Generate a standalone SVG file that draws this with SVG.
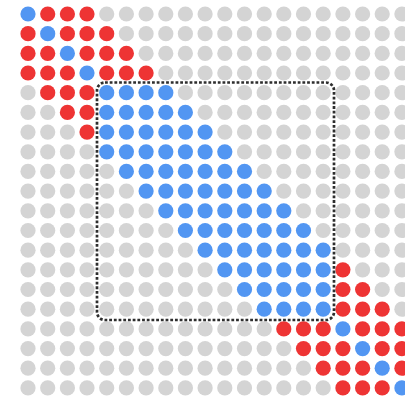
<svg xmlns="http://www.w3.org/2000/svg" width="405" height="398" viewBox="0 0 405 398">
<style>
circle{stroke:none}
.g{fill:#d4d4d4}
.b{fill:#5296f2}
.r{fill:#ee3434}
.box{fill:none;stroke:#2e2e2e;stroke-width:2.7;stroke-dasharray:2.8 1.9}
</style>
<rect width="405" height="398" fill="#fff"/>
<g id="dots">
<g transform="translate(0,14)"><circle cx="28" r="7.6" class="b"/><circle cx="47.7" r="7.6" class="r"/><circle cx="67.4" r="7.6" class="r"/><circle cx="87" r="7.6" class="r"/><circle cx="106.7" r="7.6" class="g"/><circle cx="126.4" r="7.6" class="g"/><circle cx="146.1" r="7.6" class="g"/><circle cx="165.8" r="7.6" class="g"/><circle cx="185.4" r="7.6" class="g"/><circle cx="205.1" r="7.6" class="g"/><circle cx="224.8" r="7.6" class="g"/><circle cx="244.5" r="7.6" class="g"/><circle cx="264.2" r="7.6" class="g"/><circle cx="283.8" r="7.6" class="g"/><circle cx="303.5" r="7.6" class="g"/><circle cx="323.2" r="7.6" class="g"/><circle cx="342.9" r="7.6" class="g"/><circle cx="362.6" r="7.6" class="g"/><circle cx="382.2" r="7.6" class="g"/><circle cx="401.9" r="7.6" class="g"/></g>
<g transform="translate(0,33.7)"><circle cx="28" r="7.6" class="r"/><circle cx="47.7" r="7.6" class="b"/><circle cx="67.4" r="7.6" class="r"/><circle cx="87" r="7.6" class="r"/><circle cx="106.7" r="7.6" class="r"/><circle cx="126.4" r="7.6" class="g"/><circle cx="146.1" r="7.6" class="g"/><circle cx="165.8" r="7.6" class="g"/><circle cx="185.4" r="7.6" class="g"/><circle cx="205.1" r="7.6" class="g"/><circle cx="224.8" r="7.6" class="g"/><circle cx="244.5" r="7.6" class="g"/><circle cx="264.2" r="7.6" class="g"/><circle cx="283.8" r="7.6" class="g"/><circle cx="303.5" r="7.6" class="g"/><circle cx="323.2" r="7.6" class="g"/><circle cx="342.9" r="7.6" class="g"/><circle cx="362.6" r="7.6" class="g"/><circle cx="382.2" r="7.6" class="g"/><circle cx="401.9" r="7.6" class="g"/></g>
<g transform="translate(0,53.4)"><circle cx="28" r="7.6" class="r"/><circle cx="47.7" r="7.6" class="r"/><circle cx="67.4" r="7.6" class="b"/><circle cx="87" r="7.6" class="r"/><circle cx="106.7" r="7.6" class="r"/><circle cx="126.4" r="7.6" class="r"/><circle cx="146.1" r="7.6" class="g"/><circle cx="165.8" r="7.6" class="g"/><circle cx="185.4" r="7.6" class="g"/><circle cx="205.1" r="7.6" class="g"/><circle cx="224.8" r="7.6" class="g"/><circle cx="244.5" r="7.6" class="g"/><circle cx="264.2" r="7.6" class="g"/><circle cx="283.8" r="7.6" class="g"/><circle cx="303.5" r="7.6" class="g"/><circle cx="323.2" r="7.6" class="g"/><circle cx="342.9" r="7.6" class="g"/><circle cx="362.6" r="7.6" class="g"/><circle cx="382.2" r="7.6" class="g"/><circle cx="401.9" r="7.6" class="g"/></g>
<g transform="translate(0,73)"><circle cx="28" r="7.6" class="r"/><circle cx="47.7" r="7.6" class="r"/><circle cx="67.4" r="7.6" class="r"/><circle cx="87" r="7.6" class="b"/><circle cx="106.7" r="7.6" class="r"/><circle cx="126.4" r="7.6" class="r"/><circle cx="146.1" r="7.6" class="r"/><circle cx="165.8" r="7.6" class="g"/><circle cx="185.4" r="7.6" class="g"/><circle cx="205.1" r="7.6" class="g"/><circle cx="224.8" r="7.6" class="g"/><circle cx="244.5" r="7.6" class="g"/><circle cx="264.2" r="7.6" class="g"/><circle cx="283.8" r="7.6" class="g"/><circle cx="303.5" r="7.6" class="g"/><circle cx="323.2" r="7.6" class="g"/><circle cx="342.9" r="7.6" class="g"/><circle cx="362.6" r="7.6" class="g"/><circle cx="382.2" r="7.6" class="g"/><circle cx="401.9" r="7.6" class="g"/></g>
<g transform="translate(0,92.7)"><circle cx="28" r="7.6" class="g"/><circle cx="47.7" r="7.6" class="r"/><circle cx="67.4" r="7.6" class="r"/><circle cx="87" r="7.6" class="r"/><circle cx="106.7" r="7.6" class="b"/><circle cx="126.4" r="7.6" class="b"/><circle cx="146.1" r="7.6" class="b"/><circle cx="165.8" r="7.6" class="b"/><circle cx="185.4" r="7.6" class="g"/><circle cx="205.1" r="7.6" class="g"/><circle cx="224.8" r="7.6" class="g"/><circle cx="244.5" r="7.6" class="g"/><circle cx="264.2" r="7.6" class="g"/><circle cx="283.8" r="7.6" class="g"/><circle cx="303.5" r="7.6" class="g"/><circle cx="323.2" r="7.6" class="g"/><circle cx="342.9" r="7.6" class="g"/><circle cx="362.6" r="7.6" class="g"/><circle cx="382.2" r="7.6" class="g"/><circle cx="401.9" r="7.6" class="g"/></g>
<g transform="translate(0,112.4)"><circle cx="28" r="7.6" class="g"/><circle cx="47.7" r="7.6" class="g"/><circle cx="67.4" r="7.6" class="r"/><circle cx="87" r="7.6" class="r"/><circle cx="106.7" r="7.6" class="b"/><circle cx="126.4" r="7.6" class="b"/><circle cx="146.1" r="7.6" class="b"/><circle cx="165.8" r="7.6" class="b"/><circle cx="185.4" r="7.6" class="b"/><circle cx="205.1" r="7.6" class="g"/><circle cx="224.8" r="7.6" class="g"/><circle cx="244.5" r="7.6" class="g"/><circle cx="264.2" r="7.6" class="g"/><circle cx="283.8" r="7.6" class="g"/><circle cx="303.5" r="7.6" class="g"/><circle cx="323.2" r="7.6" class="g"/><circle cx="342.9" r="7.6" class="g"/><circle cx="362.6" r="7.6" class="g"/><circle cx="382.2" r="7.6" class="g"/><circle cx="401.9" r="7.6" class="g"/></g>
<g transform="translate(0,132.1)"><circle cx="28" r="7.6" class="g"/><circle cx="47.7" r="7.6" class="g"/><circle cx="67.4" r="7.6" class="g"/><circle cx="87" r="7.6" class="r"/><circle cx="106.7" r="7.6" class="b"/><circle cx="126.4" r="7.6" class="b"/><circle cx="146.1" r="7.6" class="b"/><circle cx="165.8" r="7.6" class="b"/><circle cx="185.4" r="7.6" class="b"/><circle cx="205.1" r="7.6" class="b"/><circle cx="224.8" r="7.6" class="g"/><circle cx="244.5" r="7.6" class="g"/><circle cx="264.2" r="7.6" class="g"/><circle cx="283.8" r="7.6" class="g"/><circle cx="303.5" r="7.6" class="g"/><circle cx="323.2" r="7.6" class="g"/><circle cx="342.9" r="7.6" class="g"/><circle cx="362.6" r="7.6" class="g"/><circle cx="382.2" r="7.6" class="g"/><circle cx="401.9" r="7.6" class="g"/></g>
<g transform="translate(0,151.8)"><circle cx="28" r="7.6" class="g"/><circle cx="47.7" r="7.6" class="g"/><circle cx="67.4" r="7.6" class="g"/><circle cx="87" r="7.6" class="g"/><circle cx="106.7" r="7.6" class="b"/><circle cx="126.4" r="7.6" class="b"/><circle cx="146.1" r="7.6" class="b"/><circle cx="165.8" r="7.6" class="b"/><circle cx="185.4" r="7.6" class="b"/><circle cx="205.1" r="7.6" class="b"/><circle cx="224.8" r="7.6" class="b"/><circle cx="244.5" r="7.6" class="g"/><circle cx="264.2" r="7.6" class="g"/><circle cx="283.8" r="7.6" class="g"/><circle cx="303.5" r="7.6" class="g"/><circle cx="323.2" r="7.6" class="g"/><circle cx="342.9" r="7.6" class="g"/><circle cx="362.6" r="7.6" class="g"/><circle cx="382.2" r="7.6" class="g"/><circle cx="401.9" r="7.6" class="g"/></g>
<g transform="translate(0,171.4)"><circle cx="28" r="7.6" class="g"/><circle cx="47.7" r="7.6" class="g"/><circle cx="67.4" r="7.6" class="g"/><circle cx="87" r="7.6" class="g"/><circle cx="106.7" r="7.6" class="g"/><circle cx="126.4" r="7.6" class="b"/><circle cx="146.1" r="7.6" class="b"/><circle cx="165.8" r="7.6" class="b"/><circle cx="185.4" r="7.6" class="b"/><circle cx="205.1" r="7.6" class="b"/><circle cx="224.8" r="7.6" class="b"/><circle cx="244.5" r="7.6" class="b"/><circle cx="264.2" r="7.6" class="g"/><circle cx="283.8" r="7.6" class="g"/><circle cx="303.5" r="7.6" class="g"/><circle cx="323.2" r="7.6" class="g"/><circle cx="342.9" r="7.6" class="g"/><circle cx="362.6" r="7.6" class="g"/><circle cx="382.2" r="7.6" class="g"/><circle cx="401.9" r="7.6" class="g"/></g>
<g transform="translate(0,191.1)"><circle cx="28" r="7.6" class="g"/><circle cx="47.7" r="7.6" class="g"/><circle cx="67.4" r="7.6" class="g"/><circle cx="87" r="7.6" class="g"/><circle cx="106.7" r="7.6" class="g"/><circle cx="126.4" r="7.6" class="g"/><circle cx="146.1" r="7.6" class="b"/><circle cx="165.8" r="7.6" class="b"/><circle cx="185.4" r="7.6" class="b"/><circle cx="205.1" r="7.6" class="b"/><circle cx="224.8" r="7.6" class="b"/><circle cx="244.5" r="7.6" class="b"/><circle cx="264.2" r="7.6" class="b"/><circle cx="283.8" r="7.6" class="g"/><circle cx="303.5" r="7.6" class="g"/><circle cx="323.2" r="7.6" class="g"/><circle cx="342.9" r="7.6" class="g"/><circle cx="362.6" r="7.6" class="g"/><circle cx="382.2" r="7.6" class="g"/><circle cx="401.9" r="7.6" class="g"/></g>
<g transform="translate(0,210.8)"><circle cx="28" r="7.6" class="g"/><circle cx="47.7" r="7.6" class="g"/><circle cx="67.4" r="7.6" class="g"/><circle cx="87" r="7.6" class="g"/><circle cx="106.7" r="7.6" class="g"/><circle cx="126.4" r="7.6" class="g"/><circle cx="146.1" r="7.6" class="g"/><circle cx="165.8" r="7.6" class="b"/><circle cx="185.4" r="7.6" class="b"/><circle cx="205.1" r="7.6" class="b"/><circle cx="224.8" r="7.6" class="b"/><circle cx="244.5" r="7.6" class="b"/><circle cx="264.2" r="7.6" class="b"/><circle cx="283.8" r="7.6" class="b"/><circle cx="303.5" r="7.6" class="g"/><circle cx="323.2" r="7.6" class="g"/><circle cx="342.9" r="7.6" class="g"/><circle cx="362.6" r="7.6" class="g"/><circle cx="382.2" r="7.6" class="g"/><circle cx="401.9" r="7.6" class="g"/></g>
<g transform="translate(0,230.5)"><circle cx="28" r="7.6" class="g"/><circle cx="47.7" r="7.6" class="g"/><circle cx="67.4" r="7.6" class="g"/><circle cx="87" r="7.6" class="g"/><circle cx="106.7" r="7.6" class="g"/><circle cx="126.4" r="7.6" class="g"/><circle cx="146.1" r="7.6" class="g"/><circle cx="165.8" r="7.6" class="g"/><circle cx="185.4" r="7.6" class="b"/><circle cx="205.1" r="7.6" class="b"/><circle cx="224.8" r="7.6" class="b"/><circle cx="244.5" r="7.6" class="b"/><circle cx="264.2" r="7.6" class="b"/><circle cx="283.8" r="7.6" class="b"/><circle cx="303.5" r="7.6" class="b"/><circle cx="323.2" r="7.6" class="g"/><circle cx="342.9" r="7.6" class="g"/><circle cx="362.6" r="7.6" class="g"/><circle cx="382.2" r="7.6" class="g"/><circle cx="401.9" r="7.6" class="g"/></g>
<g transform="translate(0,250.2)"><circle cx="28" r="7.6" class="g"/><circle cx="47.7" r="7.6" class="g"/><circle cx="67.4" r="7.6" class="g"/><circle cx="87" r="7.6" class="g"/><circle cx="106.7" r="7.6" class="g"/><circle cx="126.4" r="7.6" class="g"/><circle cx="146.1" r="7.6" class="g"/><circle cx="165.8" r="7.6" class="g"/><circle cx="185.4" r="7.6" class="g"/><circle cx="205.1" r="7.6" class="b"/><circle cx="224.8" r="7.6" class="b"/><circle cx="244.5" r="7.6" class="b"/><circle cx="264.2" r="7.6" class="b"/><circle cx="283.8" r="7.6" class="b"/><circle cx="303.5" r="7.6" class="b"/><circle cx="323.2" r="7.6" class="b"/><circle cx="342.9" r="7.6" class="g"/><circle cx="362.6" r="7.6" class="g"/><circle cx="382.2" r="7.6" class="g"/><circle cx="401.9" r="7.6" class="g"/></g>
<g transform="translate(0,269.8)"><circle cx="28" r="7.6" class="g"/><circle cx="47.7" r="7.6" class="g"/><circle cx="67.4" r="7.6" class="g"/><circle cx="87" r="7.6" class="g"/><circle cx="106.7" r="7.6" class="g"/><circle cx="126.4" r="7.6" class="g"/><circle cx="146.1" r="7.6" class="g"/><circle cx="165.8" r="7.6" class="g"/><circle cx="185.4" r="7.6" class="g"/><circle cx="205.1" r="7.6" class="g"/><circle cx="224.8" r="7.6" class="b"/><circle cx="244.5" r="7.6" class="b"/><circle cx="264.2" r="7.6" class="b"/><circle cx="283.8" r="7.6" class="b"/><circle cx="303.5" r="7.6" class="b"/><circle cx="323.2" r="7.6" class="b"/><circle cx="342.9" r="7.6" class="r"/><circle cx="362.6" r="7.6" class="g"/><circle cx="382.2" r="7.6" class="g"/><circle cx="401.9" r="7.6" class="g"/></g>
<g transform="translate(0,289.5)"><circle cx="28" r="7.6" class="g"/><circle cx="47.7" r="7.6" class="g"/><circle cx="67.4" r="7.6" class="g"/><circle cx="87" r="7.6" class="g"/><circle cx="106.7" r="7.6" class="g"/><circle cx="126.4" r="7.6" class="g"/><circle cx="146.1" r="7.6" class="g"/><circle cx="165.8" r="7.6" class="g"/><circle cx="185.4" r="7.6" class="g"/><circle cx="205.1" r="7.6" class="g"/><circle cx="224.8" r="7.6" class="g"/><circle cx="244.5" r="7.6" class="b"/><circle cx="264.2" r="7.6" class="b"/><circle cx="283.8" r="7.6" class="b"/><circle cx="303.5" r="7.6" class="b"/><circle cx="323.2" r="7.6" class="b"/><circle cx="342.9" r="7.6" class="r"/><circle cx="362.6" r="7.6" class="r"/><circle cx="382.2" r="7.6" class="g"/><circle cx="401.9" r="7.6" class="g"/></g>
<g transform="translate(0,309.2)"><circle cx="28" r="7.6" class="g"/><circle cx="47.7" r="7.6" class="g"/><circle cx="67.4" r="7.6" class="g"/><circle cx="87" r="7.6" class="g"/><circle cx="106.7" r="7.6" class="g"/><circle cx="126.4" r="7.6" class="g"/><circle cx="146.1" r="7.6" class="g"/><circle cx="165.8" r="7.6" class="g"/><circle cx="185.4" r="7.6" class="g"/><circle cx="205.1" r="7.6" class="g"/><circle cx="224.8" r="7.6" class="g"/><circle cx="244.5" r="7.6" class="g"/><circle cx="264.2" r="7.6" class="b"/><circle cx="283.8" r="7.6" class="b"/><circle cx="303.5" r="7.6" class="b"/><circle cx="323.2" r="7.6" class="b"/><circle cx="342.9" r="7.6" class="r"/><circle cx="362.6" r="7.6" class="r"/><circle cx="382.2" r="7.6" class="r"/><circle cx="401.9" r="7.6" class="g"/></g>
<g transform="translate(0,328.9)"><circle cx="28" r="7.6" class="g"/><circle cx="47.7" r="7.6" class="g"/><circle cx="67.4" r="7.6" class="g"/><circle cx="87" r="7.6" class="g"/><circle cx="106.7" r="7.6" class="g"/><circle cx="126.4" r="7.6" class="g"/><circle cx="146.1" r="7.6" class="g"/><circle cx="165.8" r="7.6" class="g"/><circle cx="185.4" r="7.6" class="g"/><circle cx="205.1" r="7.6" class="g"/><circle cx="224.8" r="7.6" class="g"/><circle cx="244.5" r="7.6" class="g"/><circle cx="264.2" r="7.6" class="g"/><circle cx="283.8" r="7.6" class="r"/><circle cx="303.5" r="7.6" class="r"/><circle cx="323.2" r="7.6" class="r"/><circle cx="342.9" r="7.6" class="b"/><circle cx="362.6" r="7.6" class="r"/><circle cx="382.2" r="7.6" class="r"/><circle cx="401.9" r="7.6" class="r"/></g>
<g transform="translate(0,348.6)"><circle cx="28" r="7.6" class="g"/><circle cx="47.7" r="7.6" class="g"/><circle cx="67.4" r="7.6" class="g"/><circle cx="87" r="7.6" class="g"/><circle cx="106.7" r="7.6" class="g"/><circle cx="126.4" r="7.6" class="g"/><circle cx="146.1" r="7.6" class="g"/><circle cx="165.8" r="7.6" class="g"/><circle cx="185.4" r="7.6" class="g"/><circle cx="205.1" r="7.6" class="g"/><circle cx="224.8" r="7.6" class="g"/><circle cx="244.5" r="7.6" class="g"/><circle cx="264.2" r="7.6" class="g"/><circle cx="283.8" r="7.6" class="g"/><circle cx="303.5" r="7.6" class="r"/><circle cx="323.2" r="7.6" class="r"/><circle cx="342.9" r="7.6" class="r"/><circle cx="362.6" r="7.6" class="b"/><circle cx="382.2" r="7.6" class="r"/><circle cx="401.9" r="7.6" class="r"/></g>
<g transform="translate(0,368.2)"><circle cx="28" r="7.6" class="g"/><circle cx="47.7" r="7.6" class="g"/><circle cx="67.4" r="7.6" class="g"/><circle cx="87" r="7.6" class="g"/><circle cx="106.7" r="7.6" class="g"/><circle cx="126.4" r="7.6" class="g"/><circle cx="146.1" r="7.6" class="g"/><circle cx="165.8" r="7.6" class="g"/><circle cx="185.4" r="7.6" class="g"/><circle cx="205.1" r="7.6" class="g"/><circle cx="224.8" r="7.6" class="g"/><circle cx="244.5" r="7.6" class="g"/><circle cx="264.2" r="7.6" class="g"/><circle cx="283.8" r="7.6" class="g"/><circle cx="303.5" r="7.6" class="g"/><circle cx="323.2" r="7.6" class="r"/><circle cx="342.9" r="7.6" class="r"/><circle cx="362.6" r="7.6" class="r"/><circle cx="382.2" r="7.6" class="b"/><circle cx="401.9" r="7.6" class="r"/></g>
<g transform="translate(0,387.9)"><circle cx="28" r="7.6" class="g"/><circle cx="47.7" r="7.6" class="g"/><circle cx="67.4" r="7.6" class="g"/><circle cx="87" r="7.6" class="g"/><circle cx="106.7" r="7.6" class="g"/><circle cx="126.4" r="7.6" class="g"/><circle cx="146.1" r="7.6" class="g"/><circle cx="165.8" r="7.6" class="g"/><circle cx="185.4" r="7.6" class="g"/><circle cx="205.1" r="7.6" class="g"/><circle cx="224.8" r="7.6" class="g"/><circle cx="244.5" r="7.6" class="g"/><circle cx="264.2" r="7.6" class="g"/><circle cx="283.8" r="7.6" class="g"/><circle cx="303.5" r="7.6" class="g"/><circle cx="323.2" r="7.6" class="g"/><circle cx="342.9" r="7.6" class="r"/><circle cx="362.6" r="7.6" class="r"/><circle cx="382.2" r="7.6" class="r"/><circle cx="401.9" r="7.6" class="b"/></g>
</g>
<g id="window">
<rect class="box" x="97" y="82.5" width="237" height="237.5" rx="8" ry="8"/>
</g>
</svg>
